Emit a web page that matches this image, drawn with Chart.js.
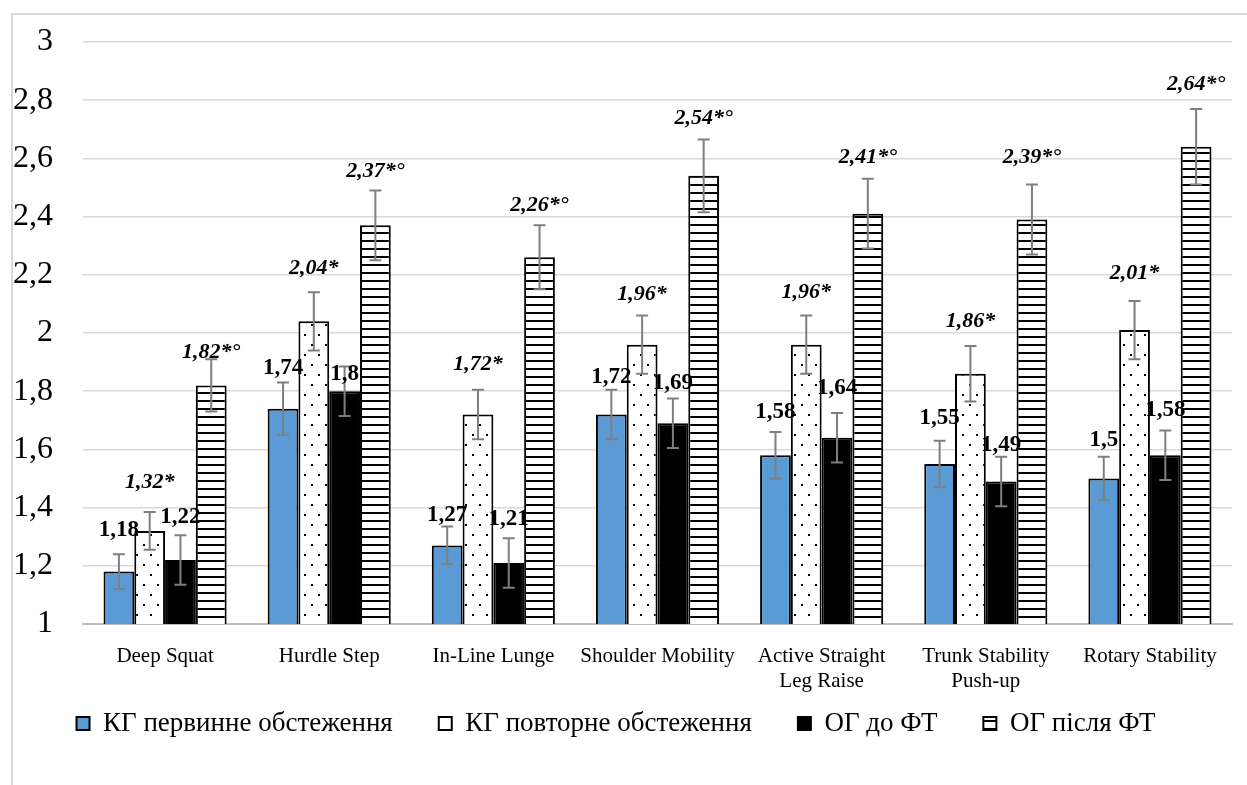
<!DOCTYPE html>
<html>
<head>
<meta charset="utf-8">
<script src="https://cdn.jsdelivr.net/npm/chart.js@4.4.1/dist/chart.umd.min.js"></script>
<style>
    html, body { margin: 0; padding: 0; background: #fff; overflow: hidden; }
    #frame { position: absolute; left: 11px; top: 13px; width: 1300px; height: 800px; border: 2px solid #d9d9d9; }
    #wrap { position: absolute; left: 0; top: 0; width: 1247px; height: 785px; }
</style>
</head>
<body>
<div id="frame"></div>
<div id="wrap"><canvas id="fmsChart"></canvas></div>
<script>
// Categories (FMS tests)
const categories = [
    'Deep Squat', 'Hurdle Step', 'In-Line Lunge', 'Shoulder Mobility',
    ['Active Straight', 'Leg Raise'], ['Trunk Stability', 'Push-up'], 'Rotary Stability'
];

// Series values
const kgFirst  = [1.18, 1.74, 1.27, 1.72, 1.58, 1.55, 1.50];
const kgRepeat = [1.32, 2.04, 1.72, 1.96, 1.96, 1.86, 2.01];
const ogBefore = [1.22, 1.80, 1.21, 1.69, 1.64, 1.49, 1.58];
const ogAfter  = [1.82, 2.37, 2.26, 2.54, 2.41, 2.39, 2.64];

// Error bar half-lengths
const kgFirstErr  = [0.06, 0.09, 0.065, 0.085, 0.08, 0.08, 0.075];
const kgRepeatErr = [0.065, 0.10, 0.085, 0.10, 0.10, 0.095, 0.10];
const ogBeforeErr = [0.085, 0.085, 0.085, 0.085, 0.085, 0.085, 0.085];
const ogAfterErr  = [0.09, 0.12, 0.11, 0.125, 0.12, 0.12, 0.13];

const seriesNames = ['КГ первинне обстеження', 'КГ повторне обстеження', 'ОГ до ФТ', 'ОГ після ФТ'];
const labelMarks = ['', '*', '', '*°'];

// Y axis ticks
const yMin = 1, yMax = 3, yStep = 0.2;

// how far (px) each value label sits above its bar, as placed in the original
const kgFirstLift  = [42, 41, 30, 37, 43, 46, 38];
const kgRepeatLift = [49, 53, 50, 50, 52, 52, 57];
const ogBeforeLift = [43, 17, 44, 40, 50, 36, 45];
const ogAfterLift  = [33, 54, 52, 58, 56, 62, 62];

const FONT = '"Liberation Serif", "Times New Roman", serif';
const LEGEND_PAD = 46;
const LEGEND_CENTER_Y = 723;

function dotPattern() {
    const c = document.createElement('canvas');
    c.width = 14; c.height = 20;
    const g = c.getContext('2d');
    g.fillStyle = '#fff';
    g.fillRect(0, 0, 14, 20);
    g.fillStyle = '#000';
    g.fillRect(3, 4, 2, 2);
    g.fillRect(10, 14, 2, 2);
    return g.createPattern(c, 'repeat');
}

function stripePattern() {
    const c = document.createElement('canvas');
    c.width = 8; c.height = 8;
    const g = c.getContext('2d');
    g.fillStyle = '#fff';
    g.fillRect(0, 0, 8, 8);
    g.fillStyle = '#000';
    g.fillRect(0, 0, 8, 2);
    return g.createPattern(c, 'repeat');
}

const fmt = v => (Math.round(v * 100) / 100).toString().replace('.', ',');

// error bars drawn over the bars
const errorBars = {
    id: 'errorBars',
    afterDatasetsDraw(chart) {
        const ctx = chart.ctx;
        const y = chart.scales.y;
        ctx.save();
        ctx.strokeStyle = '#7f7f7f';
        ctx.lineWidth = 2;
        chart.data.datasets.forEach((ds, i) => {
            const meta = chart.getDatasetMeta(i);
            meta.data.forEach((bar, j) => {
                const v = ds.data[j], e = ds.errors[j];
                const top = y.getPixelForValue(v + e);
                const bot = y.getPixelForValue(v - e);
                ctx.beginPath();
                ctx.moveTo(bar.x, top); ctx.lineTo(bar.x, bot);
                ctx.moveTo(bar.x - 6, top); ctx.lineTo(bar.x + 6, top);
                ctx.moveTo(bar.x - 6, bot); ctx.lineTo(bar.x + 6, bot);
                ctx.stroke();
            });
        });
        ctx.restore();
    }
};

// value labels above bars
const valueLabels = {
    id: 'valueLabels',
    afterDraw(chart) {
        const ctx = chart.ctx;
        ctx.save();
        ctx.fillStyle = '#000';
        ctx.textAlign = 'center';
        ctx.textBaseline = 'middle';
        chart.data.datasets.forEach((ds, i) => {
            const meta = chart.getDatasetMeta(i);
            ctx.font = (ds.italic ? 'italic bold 22px ' : 'bold 23px ') + FONT;
            meta.data.forEach((bar, j) => {
                ctx.fillText(fmt(ds.data[j]) + ds.mark, bar.x, bar.y - ds.lift[j]);
            });
        });
        ctx.restore();
    }
};

// pull the legend row up closer to the axis labels
const legendShift = {
    id: 'legendShift',
    afterLayout(chart) {
        const lg = chart.legend;
        const d = (lg.top + LEGEND_PAD + 13) - LEGEND_CENTER_Y;
        lg.top -= d;
        lg.bottom -= d;
    }
};

const datasets = [
    { label: seriesNames[0], data: kgFirst,  errors: kgFirstErr,  backgroundColor: '#5b9bd5', mark: labelMarks[0], italic: false, lift: kgFirstLift },
    { label: seriesNames[1], data: kgRepeat, errors: kgRepeatErr, backgroundColor: dotPattern(), mark: labelMarks[1], italic: true, lift: kgRepeatLift },
    { label: seriesNames[2], data: ogBefore, errors: ogBeforeErr, backgroundColor: '#000', mark: labelMarks[2], italic: false, lift: ogBeforeLift },
    { label: seriesNames[3], data: ogAfter,  errors: ogAfterErr,  backgroundColor: stripePattern(), mark: labelMarks[3], italic: true, lift: ogAfterLift }
].map(d => Object.assign(d, {
    borderColor: '#000',
    borderWidth: 2,
    borderSkipped: false,
    categoryPercentage: 0.75,
    barPercentage: 1.0
}));

new Chart('fmsChart', {
    type: 'bar',
    data: { labels: categories, datasets: datasets },
    options: {
        responsive: true,
        maintainAspectRatio: false,
        animation: false,
        layout: { padding: { top: 42, right: 15, bottom: 3, left: 0 } },
        plugins: {
            tooltip: { enabled: false },
            legend: {
                position: 'bottom',
                labels: {
                    font: { family: FONT, size: 27 },
                    color: '#000',
                    boxWidth: 13,
                    boxHeight: 13,
                    padding: LEGEND_PAD
                }
            }
        },
        scales: {
            x: {
                grid: { display: false },
                border: { color: '#bfbfbf', width: 2 },
                ticks: {
                    color: '#000',
                    font: { family: FONT, size: 21 },
                    padding: 12,
                    maxRotation: 0,
                    autoSkip: false
                },
                afterFit: s => { s.height = 75; }
            },
            y: {
                min: yMin,
                max: yMax,
                grid: { color: '#d9d9d9', lineWidth: 1.5, drawTicks: true, tickLength: 30, tickColor: 'rgba(0,0,0,0)' },
                border: { display: false },
                ticks: {
                    stepSize: yStep,
                    color: '#000',
                    font: { family: FONT, size: 32 },
                    padding: 0,
                    callback: v => fmt(v)
                },
                afterFit: s => { s.width = 83; }
            }
        }
    },
    plugins: [errorBars, valueLabels, legendShift]
});
</script>
</body>
</html>
